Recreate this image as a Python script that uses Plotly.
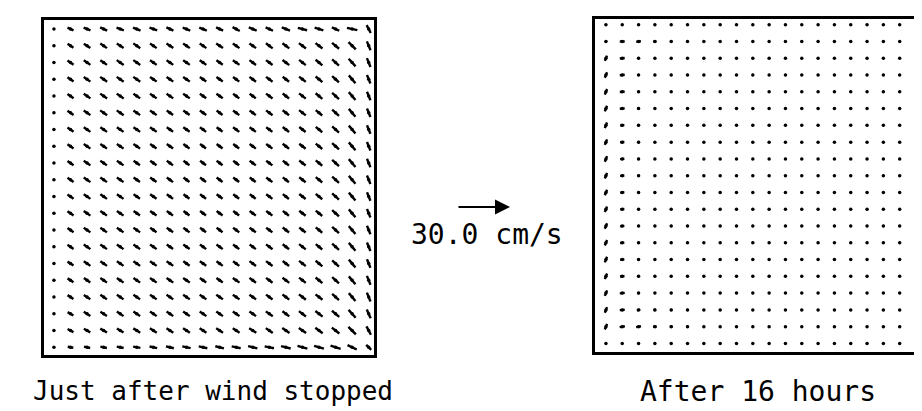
import numpy as np
import plotly.graph_objects as go

NX, NY = 20, 20
SCALE_CMS = 30.0
SCALE_LABEL = "30.0 cm/s"
CAPTIONS = ["Just after wind stopped", "After 16 hours"]

# Left panel: speed (cm/s) and direction (deg, ccw from +x); rows listed top -> bottom
LEFT_SPEED = [
    [0.6, 3.8, 4.2, 4.4, 4.4, 4.6, 4.6, 4.4, 4.6, 4.6, 4.4, 4.6, 4.8, 4.6, 5.0, 5.4, 5.2, 4.6, 6.0, 5.0],
    [0.6, 4.0, 4.4, 4.6, 4.6, 4.8, 4.6, 4.6, 4.6, 4.6, 4.6, 4.6, 4.6, 4.8, 4.8, 5.0, 5.0, 5.2, 5.8, 5.4],
    [0.6, 4.2, 4.6, 4.6, 4.8, 4.8, 4.6, 4.6, 4.6, 4.6, 4.4, 4.6, 4.6, 4.6, 4.8, 4.8, 5.0, 5.2, 5.8, 5.4],
    [0.6, 4.2, 4.6, 4.8, 4.8, 4.8, 4.6, 4.6, 4.6, 4.4, 4.4, 4.4, 4.6, 4.6, 4.6, 4.8, 5.0, 5.2, 5.8, 5.2],
    [0.6, 4.2, 4.6, 4.8, 4.8, 4.6, 4.6, 4.6, 4.6, 4.4, 4.4, 4.4, 4.4, 4.6, 4.6, 4.8, 5.0, 5.2, 5.8, 5.2],
    [0.6, 4.2, 4.6, 4.8, 4.8, 4.6, 4.6, 4.4, 4.4, 4.4, 4.2, 4.4, 4.4, 4.6, 4.6, 4.8, 4.8, 5.2, 5.8, 5.2],
    [0.6, 4.2, 4.6, 4.6, 4.6, 4.6, 4.6, 4.4, 4.4, 4.4, 4.2, 4.4, 4.4, 4.4, 4.6, 4.6, 4.8, 5.2, 5.8, 5.2],
    [0.6, 4.2, 4.6, 4.6, 4.6, 4.6, 4.4, 4.4, 4.4, 4.2, 4.2, 4.2, 4.4, 4.4, 4.6, 4.6, 4.8, 5.2, 5.8, 5.2],
    [0.6, 4.2, 4.6, 4.6, 4.6, 4.4, 4.4, 4.4, 4.2, 4.2, 4.2, 4.2, 4.4, 4.4, 4.4, 4.6, 4.8, 5.2, 5.8, 5.2],
    [0.6, 4.2, 4.6, 4.6, 4.6, 4.4, 4.4, 4.4, 4.2, 4.2, 4.2, 4.2, 4.2, 4.4, 4.4, 4.6, 4.8, 5.2, 5.8, 5.2],
    [0.6, 4.2, 4.6, 4.6, 4.6, 4.4, 4.4, 4.4, 4.2, 4.2, 4.2, 4.2, 4.2, 4.4, 4.4, 4.6, 4.8, 5.2, 5.8, 5.2],
    [0.6, 4.2, 4.6, 4.6, 4.6, 4.4, 4.4, 4.4, 4.2, 4.2, 4.2, 4.2, 4.4, 4.4, 4.4, 4.6, 4.8, 5.2, 5.8, 5.2],
    [0.6, 4.2, 4.6, 4.6, 4.6, 4.6, 4.4, 4.4, 4.4, 4.2, 4.2, 4.4, 4.4, 4.4, 4.6, 4.6, 4.8, 5.2, 5.8, 5.2],
    [0.6, 4.2, 4.6, 4.6, 4.6, 4.6, 4.6, 4.4, 4.4, 4.4, 4.4, 4.4, 4.4, 4.6, 4.6, 4.8, 4.8, 5.2, 5.8, 5.2],
    [0.6, 4.0, 4.6, 4.6, 4.6, 4.6, 4.6, 4.6, 4.4, 4.4, 4.4, 4.4, 4.6, 4.6, 4.6, 4.8, 5.0, 5.2, 5.8, 5.2],
    [0.6, 4.0, 4.4, 4.6, 4.6, 4.6, 4.6, 4.6, 4.6, 4.4, 4.4, 4.6, 4.6, 4.6, 4.8, 4.8, 5.0, 5.2, 5.8, 5.4],
    [0.6, 4.0, 4.4, 4.6, 4.6, 4.6, 4.6, 4.6, 4.6, 4.6, 4.6, 4.6, 4.6, 4.6, 4.8, 5.0, 5.0, 5.2, 5.8, 5.4],
    [0.6, 3.8, 4.4, 4.4, 4.6, 4.6, 4.6, 4.6, 4.6, 4.6, 4.6, 4.6, 4.6, 4.8, 4.8, 5.0, 5.2, 5.4, 6.0, 5.4],
    [0.6, 3.8, 4.2, 4.4, 4.4, 4.6, 4.6, 4.6, 4.6, 4.6, 4.6, 4.6, 4.8, 4.8, 5.0, 5.0, 5.2, 5.4, 6.0, 5.4],
    [0.6, 3.2, 3.6, 3.8, 4.0, 4.2, 4.4, 4.6, 4.8, 5.0, 5.0, 5.2, 5.4, 5.4, 5.6, 5.8, 5.8, 6.0, 5.8, 4.0],
]
LEFT_ANGLE = [
    [-30, -25, -22, -25, -20, -22, -20, -25, -22, -22, -25, -28, -22, -25, -22, -15, -18, -25, -12, -62],
    [-30, -35, -33, -35, -33, -35, -35, -33, -35, -35, -33, -35, -35, -37, -37, -37, -38, -40, -45, -68],
    [-30, -35, -35, -35, -35, -35, -35, -35, -35, -35, -35, -35, -37, -37, -37, -38, -40, -42, -48, -68],
    [-30, -35, -35, -35, -35, -35, -35, -35, -35, -35, -35, -37, -37, -37, -38, -38, -40, -42, -50, -68],
    [-30, -35, -35, -35, -35, -35, -35, -35, -35, -35, -35, -37, -37, -37, -38, -38, -40, -42, -50, -68],
    [-30, -35, -35, -35, -35, -35, -35, -35, -35, -35, -37, -37, -37, -37, -38, -38, -40, -42, -50, -68],
    [-30, -35, -35, -35, -35, -35, -35, -35, -35, -37, -37, -37, -37, -37, -38, -38, -40, -42, -50, -68],
    [-30, -35, -35, -35, -35, -35, -35, -35, -37, -37, -37, -37, -37, -37, -38, -38, -40, -42, -50, -68],
    [-30, -35, -35, -35, -35, -35, -35, -37, -37, -37, -37, -37, -37, -37, -38, -38, -40, -42, -50, -68],
    [-30, -35, -35, -35, -35, -35, -35, -37, -37, -37, -37, -37, -37, -37, -38, -38, -40, -42, -50, -68],
    [-30, -35, -35, -35, -35, -35, -35, -37, -37, -37, -37, -37, -37, -37, -38, -38, -40, -42, -50, -68],
    [-30, -35, -35, -35, -35, -35, -35, -37, -37, -37, -37, -37, -37, -37, -38, -38, -40, -42, -50, -68],
    [-30, -35, -35, -35, -35, -35, -35, -35, -37, -37, -37, -37, -37, -37, -38, -38, -40, -42, -50, -68],
    [-30, -35, -35, -35, -35, -35, -35, -35, -35, -37, -37, -37, -37, -37, -38, -38, -40, -42, -50, -68],
    [-30, -33, -35, -35, -35, -35, -35, -35, -35, -35, -37, -37, -37, -37, -38, -38, -40, -42, -50, -68],
    [-30, -33, -35, -35, -35, -35, -35, -35, -35, -35, -35, -35, -37, -37, -37, -38, -40, -42, -50, -68],
    [-30, -33, -33, -35, -35, -35, -35, -35, -35, -35, -35, -35, -35, -37, -37, -38, -38, -42, -50, -68],
    [-30, -30, -33, -33, -35, -35, -35, -35, -35, -35, -35, -35, -35, -35, -37, -37, -38, -40, -48, -66],
    [-25, -28, -30, -30, -32, -32, -33, -33, -33, -33, -33, -33, -33, -35, -35, -35, -37, -38, -45, -62],
    [-20, -10, -12, -12, -12, -10, -12, -14, -12, -12, -14, -12, -14, -12, -14, -16, -16, -18, -26, -45],
]

# Right panel (after 16 hours): mostly near-zero, western boundary jet
RIGHT_SPEED = [
    [0.6, 0.5, 0.6, 0.4, 0.4, 0.4, 0.4, 0.4, 0.4, 0.4, 0.4, 0.4, 0.4, 0.4, 0.4, 0.4, 0.4, 0.4, 0.4, 0.4],
    [1.4, 2.8, 2.6, 1.8, 1.2, 0.6, 0.6, 0.4, 0.4, 0.4, 0.6, 0.4, 0.6, 0.4, 0.6, 0.6, 0.4, 0.4, 0.4, 0.4],
    [3.2, 2.8, 1.0, 0.6, 0.4, 0.4, 0.4, 0.4, 0.4, 0.4, 0.4, 0.4, 0.4, 0.4, 0.4, 0.4, 0.4, 0.4, 0.4, 0.4],
    [3.4, 2.8, 1.0, 0.4, 0.4, 0.4, 0.4, 0.4, 0.4, 0.4, 0.4, 0.4, 0.4, 0.4, 0.4, 0.4, 0.4, 0.4, 0.4, 0.4],
    [3.4, 2.8, 1.0, 0.4, 0.4, 0.4, 0.4, 0.4, 0.4, 0.4, 0.4, 0.4, 0.4, 0.4, 0.4, 0.4, 0.4, 0.4, 0.4, 0.4],
    [3.4, 2.8, 1.4, 0.4, 0.4, 0.4, 0.6, 0.4, 0.4, 0.4, 0.4, 0.4, 0.4, 0.4, 0.4, 0.4, 0.4, 0.4, 0.4, 0.4],
    [3.4, 2.4, 1.2, 0.4, 0.4, 0.4, 0.4, 0.4, 0.4, 0.4, 0.4, 0.4, 0.4, 0.4, 0.4, 0.4, 0.4, 0.4, 0.4, 0.4],
    [3.4, 2.4, 1.0, 0.4, 0.4, 0.4, 0.4, 0.4, 0.4, 0.4, 0.4, 0.4, 0.4, 0.4, 0.4, 0.4, 0.4, 0.4, 0.4, 0.4],
    [3.4, 2.4, 1.0, 0.4, 0.4, 0.4, 0.4, 0.4, 0.4, 0.4, 0.4, 0.4, 0.4, 0.4, 0.4, 0.4, 0.4, 0.4, 0.4, 0.4],
    [3.4, 2.4, 1.0, 0.4, 0.4, 0.4, 0.4, 0.4, 0.4, 0.4, 0.4, 0.4, 0.4, 0.4, 0.4, 0.4, 0.4, 0.4, 0.4, 0.4],
    [3.4, 2.4, 1.0, 0.4, 0.4, 0.4, 0.4, 0.4, 0.4, 0.4, 0.4, 0.4, 0.4, 0.4, 0.4, 0.4, 0.4, 0.4, 0.4, 0.4],
    [3.4, 2.4, 1.0, 0.4, 0.4, 0.4, 0.4, 0.4, 0.4, 0.4, 0.4, 0.4, 0.4, 0.4, 0.4, 0.4, 0.4, 0.4, 0.4, 0.4],
    [3.4, 2.4, 1.0, 0.4, 0.4, 0.4, 0.4, 0.4, 0.4, 0.4, 0.4, 0.4, 0.4, 0.4, 0.4, 0.4, 0.4, 0.4, 0.4, 0.4],
    [3.4, 2.4, 1.0, 0.4, 0.4, 0.4, 0.4, 0.4, 0.4, 0.4, 0.4, 0.4, 0.4, 0.4, 0.4, 0.4, 0.4, 0.4, 0.4, 0.4],
    [3.4, 2.4, 1.0, 0.4, 0.4, 0.4, 0.4, 0.4, 0.4, 0.4, 0.4, 0.4, 0.4, 0.4, 0.4, 0.4, 0.4, 0.4, 0.4, 0.4],
    [3.4, 2.6, 1.2, 0.4, 0.4, 0.4, 0.4, 0.4, 0.4, 0.4, 0.4, 0.4, 0.4, 0.4, 0.4, 0.4, 0.4, 0.4, 0.4, 0.4],
    [3.4, 2.8, 1.4, 0.6, 0.4, 0.4, 0.4, 0.4, 0.4, 0.4, 0.4, 0.4, 0.6, 0.4, 0.4, 0.4, 0.4, 0.4, 0.4, 0.4],
    [3.4, 2.8, 2.0, 1.4, 1.2, 0.8, 0.6, 0.6, 0.4, 0.4, 0.4, 0.4, 0.4, 0.4, 0.4, 0.4, 0.4, 0.4, 0.4, 0.4],
    [3.4, 3.0, 2.8, 2.0, 1.6, 1.2, 0.8, 0.6, 0.6, 0.4, 0.4, 0.4, 0.4, 0.4, 0.4, 0.4, 0.4, 0.4, 0.4, 0.4],
    [0.8, 0.6, 0.6, 0.6, 0.6, 0.4, 0.4, 0.6, 0.6, 0.4, 0.4, 0.4, 0.4, 0.4, 0.4, 0.4, 0.4, 0.4, 0.4, 0.4],
]
RIGHT_ANGLE = [
    [80, 0, 0, 0, 0, 0, 0, 0, 0, 0, 0, 0, 0, 0, 0, 0, 0, 0, 0, 0],
    [70, 0, 5, 5, 0, 0, 20, 0, 0, 0, 20, 0, 30, 0, 10, 0, 0, 0, 0, 0],
    [68, 5, 20, 0, 0, 0, 0, 0, 0, 0, 0, 0, 0, 0, 0, 0, 0, 0, 0, 0],
    [68, 5, 10, 0, 0, 0, 0, 0, 0, 0, 0, 0, 0, 0, 0, 0, 0, 0, 0, 0],
    [68, 5, 10, 0, 0, 0, 0, 0, 0, 0, 0, 0, 0, 0, 0, 0, 0, 0, 0, 0],
    [68, 5, 10, 0, 0, 0, 0, 0, 0, 0, 0, 0, 0, 0, 0, 0, 0, 0, 0, 0],
    [68, 5, 10, 0, 0, 0, 0, 0, 0, 0, 0, 0, 0, 0, 0, 0, 0, 0, 0, 0],
    [68, 5, 10, 0, 0, 0, 0, 0, 0, 0, 0, 0, 0, 0, 0, 0, 0, 0, 0, 0],
    [68, 5, 10, 0, 0, 0, 0, 0, 0, 0, 0, 0, 0, 0, 0, 0, 0, 0, 0, 0],
    [68, 5, 10, 0, 0, 0, 0, 0, 0, 0, 0, 0, 0, 0, 0, 0, 0, 0, 0, 0],
    [68, 5, 10, 0, 0, 0, 0, 0, 0, 0, 0, 0, 0, 0, 0, 0, 0, 0, 0, 0],
    [68, 5, 10, 0, 0, 0, 0, 0, 0, 0, 0, 0, 0, 0, 0, 0, 0, 0, 0, 0],
    [68, 5, 10, 0, 0, 0, 0, 0, 0, 0, 0, 0, 0, 0, 0, 0, 0, 0, 0, 0],
    [68, 5, 10, 0, 0, 0, 0, 0, 0, 0, 0, 0, 0, 0, 0, 0, 0, 0, 0, 0],
    [68, 5, 10, 0, 0, 0, 0, 0, 0, 0, 0, 0, 0, 0, 0, 0, 0, 0, 0, 0],
    [68, 5, 15, 0, 0, 0, 0, 0, 0, 0, 0, 0, 0, 0, 0, 0, 0, 0, 0, 0],
    [68, 5, 15, 0, 0, 0, 0, 0, 0, 0, 0, 0, 0, 0, 0, 0, 0, 0, 0, 0],
    [68, 5, 10, 5, 0, 0, 0, 0, 0, 0, 0, 0, 0, 0, 0, 0, 0, 0, 0, 0],
    [68, 10, 10, 5, 5, 0, 0, 0, 0, 0, 0, 0, 0, 0, 0, 0, 0, 0, 0, 0],
    [20, 20, 20, 20, 20, 0, 0, 20, 20, 0, 0, 0, 0, 0, 0, 0, 0, 0, 0, 0],
]

W, H = 922, 411
PX_PER_CMS = 53.0 / SCALE_CMS   # length of the 30 cm/s reference arrow in pixels

# panel geometry (pixels, top-left origin) and axis ranges (grid index units)
PANELS = [
    dict(px=(36, 366), py=(12, 347), xr=(-0.60, 19.32), yr=(-0.46, 19.54)),
    dict(px=(587, 916), py=(11, 344), xr=(-0.67, 19.49), yr=(-0.51, 19.34)),
]


def segments(speed, angle, pxu_x, pxu_y):
    xs, ys = [], []
    cx, cy = [], []
    for r in range(NY):
        j = NY - 1 - r
        for i in range(NX):
            s = speed[r][i]
            a = np.deg2rad(angle[r][i])
            hx = 0.5 * s * np.cos(a) * PX_PER_CMS / pxu_x
            hy = 0.5 * s * np.sin(a) * PX_PER_CMS / pxu_y
            xs += [i - hx, i + hx, None]
            ys += [j - hy, j + hy, None]
            cx.append(i)
            cy.append(j)
    return xs, ys, cx, cy


fig = go.Figure()
data = [(LEFT_SPEED, LEFT_ANGLE), (RIGHT_SPEED, RIGHT_ANGLE)]
for k, (p, (sp, an)) in enumerate(zip(PANELS, data)):
    pxu_x = (p["px"][1] - p["px"][0]) / (p["xr"][1] - p["xr"][0])
    pxu_y = (p["py"][1] - p["py"][0]) / (p["yr"][1] - p["yr"][0])
    xs, ys, cx, cy = segments(sp, an, pxu_x, pxu_y)
    xa = "x" if k == 0 else "x2"
    ya = "y" if k == 0 else "y2"
    fig.add_trace(go.Scatter(x=cx, y=cy, mode="markers", xaxis=xa, yaxis=ya,
                             marker=dict(size=3.5, color="black"), hoverinfo="skip",
                             showlegend=False))
    fig.add_trace(go.Scatter(x=xs, y=ys, mode="lines", xaxis=xa, yaxis=ya,
                             line=dict(color="black", width=2.4), hoverinfo="skip",
                             showlegend=False))
    axcommon = dict(showgrid=False, zeroline=False, showticklabels=False, ticks="",
                    showline=True, mirror=True, linecolor="black", linewidth=2.5)
    xdom = [p["px"][0] / W, p["px"][1] / W]
    ydom = [(H - p["py"][1]) / H, (H - p["py"][0]) / H]
    suffix = "" if k == 0 else "2"
    fig.update_layout(**{
        "xaxis" + suffix: dict(domain=xdom, range=list(p["xr"]), anchor=ya, **axcommon),
        "yaxis" + suffix: dict(domain=ydom, range=list(p["yr"]), anchor=xa, **axcommon),
    })

FONT = "DejaVu Sans Mono"
ann = []
# reference arrow
arrow_tip_x, arrow_y = 502, 199
ann.append(dict(x=arrow_tip_x / W, y=(H - arrow_y) / H, xref="paper", yref="paper",
                ax=-SCALE_CMS * PX_PER_CMS, ay=0, axref="pixel", ayref="pixel",
                showarrow=True, arrowhead=2, arrowsize=1.5, arrowwidth=2, arrowcolor="black",
                text=""))
ann.append(dict(x=479 / W, y=(H - 226) / H, xref="paper", yref="paper", showarrow=False,
                text=SCALE_LABEL, font=dict(family=FONT, size=28, color="black"),
                xanchor="center", yanchor="middle"))
ann.append(dict(x=205 / W, y=(H - 383) / H, xref="paper", yref="paper", showarrow=False,
                text=CAPTIONS[0], font=dict(family=FONT, size=26, color="black"),
                xanchor="center", yanchor="middle"))
ann.append(dict(x=750 / W, y=(H - 383) / H, xref="paper", yref="paper", showarrow=False,
                text=CAPTIONS[1], font=dict(family=FONT, size=28, color="black"),
                xanchor="center", yanchor="middle"))

fig.update_layout(width=W, height=H, margin=dict(l=0, r=0, t=0, b=0),
                  paper_bgcolor="white", plot_bgcolor="white", annotations=ann,
                  showlegend=False)
fig.write_html("out.html")
